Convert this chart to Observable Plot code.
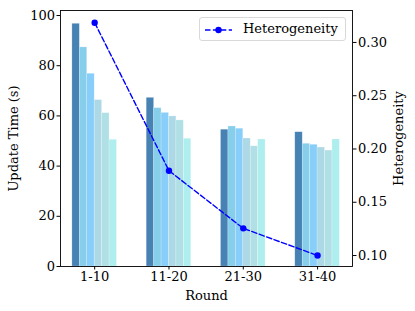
<!DOCTYPE html>
<html><head><meta charset="utf-8">
<script src="https://cdn.jsdelivr.net/npm/d3@7"></script>
<script src="https://cdn.jsdelivr.net/npm/@observablehq/plot@0.6"></script>
<style>
body{margin:0;background:#fff}
#chart{position:relative;width:415px;height:311px}
#legend{position:absolute;left:199px;top:17px;width:147px;height:24px;box-sizing:border-box;border:1px solid #d9d9d9;border-radius:3px;background:rgba(255,255,255,0.8);font-family:"DejaVu Serif";font-size:13px;color:#000}
#legend svg{position:absolute;left:4px;top:3px}
#legend span{position:absolute;left:43px;top:3px;line-height:16px}
</style>
</head><body>
<div id="chart"><div id="legend"><svg width="30" height="18"><line x1="1" y1="9" x2="28" y2="9" stroke="#0000ff" stroke-width="1.4" stroke-dasharray="5.5,2.4"/><circle cx="14.5" cy="9" r="3.2" fill="#0000ff"/></svg><span>Heterogeneity</span></div></div>
<script>
const rounds = ["1-10", "11-20", "21-30", "31-40"];
const barColors = ["#4682b4", "#87ceeb", "#87cefa", "#add8e6", "#b0e0e6", "#afeeee"];
const time1_10  = [96.7, 87.3, 76.8, 66.3, 61.1, 50.5];
const time11_20 = [67.2, 63.1, 61.2, 59.8, 58.2, 50.9];
const time21_30 = [54.5, 55.8, 54.9, 51.0, 47.9, 50.6];
const time31_40 = [53.5, 48.9, 48.5, 47.4, 46.2, 50.6];
const heterogeneity = [0.3185, 0.1796, 0.1255, 0.100];
const leftTicks = [0, 20, 40, 60, 80, 100];
const rightTicks = [0.10, 0.15, 0.20, 0.25, 0.30];

const times = [time1_10, time11_20, time21_30, time31_40];
const bw = 0.1;
const bars = [];
times.forEach((vals, i) => vals.forEach((v, j) => bars.push({i, j, v, color: barColors[j]})));
const hets = heterogeneity.map((h, i) => ({i, h}));

const yMax = 102;
const hToY = d3.scaleLinear([0.0897, 0.330], [0, yMax]);

const plot = Plot.plot({
  width: 415, height: 311,
  marginLeft: 60, marginRight: 63, marginTop: 10, marginBottom: 45,
  style: {fontFamily: "DejaVu Serif", fontSize: "13px", color: "#000", background: "#fff", overflow: "visible"},
  x: {type: "linear", domain: [-0.46, 3.47]},
  y: {domain: [0, yMax]},
  color: {type: "identity"},
  marks: [
    Plot.rectY(bars, {
      x1: d => d.i + (d.j - 3) * bw, x2: d => d.i + (d.j - 2) * bw,
      y1: 0, y2: "v", fill: "color", stroke: "#ffffff", strokeOpacity: 0.35, strokeWidth: 0.6
    }),
    Plot.line(hets, {x: "i", y: d => hToY(d.h), stroke: "#0000ff", strokeWidth: 1.4, strokeDasharray: "5.5,2.4"}),
    Plot.dot(hets, {x: "i", y: d => hToY(d.h), r: 3.2, fill: "#0000ff"}),
    Plot.frame({stroke: "#000", strokeWidth: 0.9}),
    Plot.axisX({ticks: [0, 1, 2, 3], tickFormat: i => rounds[i], tickSize: 3.5, tickPadding: 2, label: null}),
    Plot.axisY({ticks: leftTicks, tickSize: 3.5, tickPadding: 2, label: null}),
    Plot.axisY({anchor: "right", ticks: rightTicks.map(t => hToY(t)), tickFormat: v => hToY.invert(v).toFixed(2), tickSize: 3.5, tickPadding: 2, label: null}),
    Plot.text(["Round"], {frameAnchor: "bottom", dy: 29, lineAnchor: "middle", textAnchor: "middle", text: d => d}),
    Plot.text(["Update Time (s)"], {frameAnchor: "left", dx: -47, rotate: -90, textAnchor: "middle", lineAnchor: "middle", text: d => d}),
    Plot.text(["Heterogeneity"], {frameAnchor: "right", dx: 46, rotate: -90, textAnchor: "middle", lineAnchor: "middle", text: d => d})
  ]
});
document.getElementById("chart").prepend(plot);
</script>
</body></html>
